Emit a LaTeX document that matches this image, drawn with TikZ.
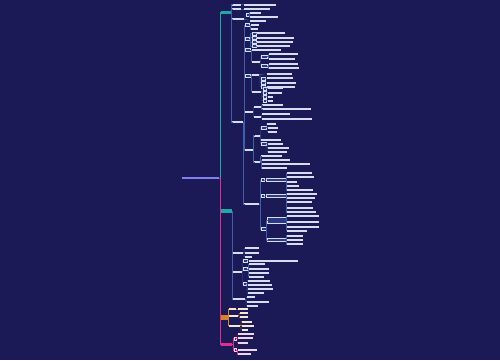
\documentclass[tikz,border=0pt]{standalone}
\usetikzlibrary{calc}
\definecolor{bg}{HTML}{1B1A57}
\definecolor{lnc}{HTML}{3F5FAE}
\definecolor{leaf}{HTML}{D6DDEE}
\definecolor{boxf}{HTML}{2C3A86}
\definecolor{brteal}{HTML}{1FA9A6}
\definecolor{brorange}{HTML}{D9822B}
\definecolor{brmag}{HTML}{DE2E93}
\definecolor{rootc}{HTML}{8080EE}
\definecolor{orleaf}{HTML}{F2E8D6}
\definecolor{mgleaf}{HTML}{F0D4EA}
\tikzset{
  lf/.style={fill=leaf, inner sep=0pt, minimum height=2.2pt},
  bx/.style={draw=leaf, fill=boxf, line width=0.35pt, inner sep=0pt, minimum height=3.2pt},
  olf/.style={lf, fill=orleaf},
  mlf/.style={lf, fill=mgleaf},
  cn/.style={draw=lnc, line width=0.45pt},
  brn/.style={inner sep=0pt, minimum height=3.5pt},
}
\newcommand\Nd[5][lf]{\node[#1, minimum width={(#4-#3)*1pt}] (#2) at ({(#3+#4)/2},#5) {};}
\newcommand\Ed[3][cn]{\draw[#1] (#2.east) -- ($(#2.east)!.5!(#2.east-|#3.west)$) |- (#3.west);}
\begin{document}
\begin{tikzpicture}[x=1pt,y=-1pt]
\fill[bg] (0,0) rectangle (500,360);
\useasboundingbox (0,0) rectangle (500,360);
% root and branches
\node[brn, fill=rootc, minimum width=37pt, minimum height=2.8pt] (R) at (200.5,178) {};
\node[brn, fill=brteal, minimum width=10pt] (B1) at (226,12.5) {};
\node[brn, fill=brteal, minimum width=11pt] (B2) at (226.5,211) {};
\node[brn, fill=brorange, minimum width=6.5pt, minimum height=4.5pt] (B3) at (224.25,317.5) {};
\node[brn, fill=brmag, minimum width=11pt, minimum height=3pt] (B4) at (226.5,344.5) {};
\foreach \b/\c in {B1/brteal,B2/brteal,B3/brorange,B4/brmag}
  {\draw[\c, line width=0.5pt] (R.east) -- ++(1,0) |- (\b.west);}
% leaf-like nodes
\foreach \n/\a/\b/\y in {A1/232/241/4.7, A1l/244/276/4.7, A2/232/241/9, A2l/244/270/9,
  A3/232/244/19.3, a3a/250/261/12.7, a3b/250/278/16.7, a3c/250/266/21,
  A4/232/243/122, c0a/251/259/25, c0b/251/258/29.3,
  d1l/257/285/33.3, d2l/257/294/37.7, d3l/257/293/42, d4l/257/290/46,
  c2l/252/281/50, E0/252/260/61.7, e1a/269/298/54.3, e1b/269/295/58.7,
  e2a/269/298/64, e2b/269/299/68.3,
  F1/252/259/74.7, f0/267/292/74, fl1/267/293/78.3, fl2/267/296/82.7, fl3/267/295/86.7,
  F2/252/261/91.7, gl1/268/283/88.3, gl2/268/282/92.7, gl3/268/273/96.7, gl4/268/273/100.7,
  C4/245/253/111.7, H1/254/261/107, h1a/262/283/105, h1b/262/311/109.3,
  H2/254/261/116.7, h2a/262/290/114, h2b/262/312/119,
  C5/245/253/150, K1/254/260/135.7, k1/267/276/124, k2/268/278/127.7, k3/268/277/131.7,
  k4/261/281/139.7, k5/268/283/143.7, k6/268/289/147.7, k7/268/287/151.7,
  K3/254/260/162, K2/261/282/156, k8/262/290/160, k9/262/310/164.3, k10/262/287/168.3,
  C6/244/259/204, n1/287/312/173.3, n2/287/314/177, n3/287/297/181.7,
  n4/287/299/185.7, n5/287/313/190,
  n6/287/317/193.7, n7/287/315/197.7, n8/287/312/201.7, n9/287/313/208, n10/287/316/212,
  n15/287/303/235.7, n16/287/303/240, n17/287/303/244,
  n11/287/319/216, n12/287/319/221.7, n13/287/319/226.7, n14/287/307/230.7,
  P1/232/243/252.7, p1/245/259/248.3, p2/245/259/252.7, p3/245/252/256.7,
  P2/232/242/271.7, q1/249/298/260.7, q2/249/265/264.3,
  q3/249/269/269, q4/249/269/273, q5/249/264/276.7,
  q6/248/270/280.7, q7/248/272/285, q8/248/273/289.3, q9/248/264/293.3,
  P3/232/245/299.3, r1/247/255/297.3, r2/247/269/301.7, r3/247/258/305.7}
  {\Nd{\n}{\a}{\b}{\y}}
% boxed parent nodes
\foreach \n/\a/\b/\y in {a3s/246/249/15, C0/245/249/25, C1/245/249/39,
  d1/252/256/33.3, d2/252/256/37.7, d3/252/256/42, d4/252/256/46,
  C2/245/250/50, E1/261/267/56.5, E2/261/267/66, C3/245/250/76,
  fs1/261/265/78.3, fs2/261/265/82.7, fs3/261/265/86.7,
  gs1/263/266/88.3, gs2/263/266/92.7, gs3/263/266/96.7, gs4/263/266/100.7,
  K1a/261/266/127.7, K1b/261/266/143.7,
  M1/261/264/180, N1/266/286/180, M2/261/264/196, N2/266/286/196,
  M3/261/266/229, N4/267/286/240,
  Q1/243/247/260.7, Q2/243/247/269, Q3/243/246/283.3}
  {\Nd[bx]{\n}{\a}{\b}{\y}}
\node[bx, minimum width=19pt, minimum height=6pt] (N3) at (276.5,220) {};
% branch 3 and 4 nodes
\foreach \n/\a/\b/\y in {O0/228.5/236/309.3, o0/238/248/309.3, O1/229/238/315.7, o1a/240/248/313.3, o1b/240/248/317.3,
  O3/228.5/240/325.7, o3a/242/252/321.7, o3b/242/254/325.7, o3c/242/248/330}
  {\Nd[olf]{\n}{\a}{\b}{\y}}
\foreach \n/\a/\b/\y in {t1/238/254/334, t2/238/253/338.3, t3/238/248/342.7,
  t4/238/257/350, t5/238/251/354.3}
  {\Nd[mlf]{\n}{\a}{\b}{\y}}
\foreach \n/\a/\b/\y in {T2/234/236/338.3, T3/234/236/350}
  {\Nd[bx, draw=mgleaf, fill=brmag!40!bg]{\n}{\a}{\b}{\y}}
% connectors
\foreach \p/\c in {B1/A1, A1/A1l, B1/A2, A2/A2l, B1/A3, A3/a3s, a3s/a3a, a3s/a3b, A3/a3c, B1/A4,
  A4/C0, C0/c0a, C0/c0b, A4/C1, C1/d1, C1/d2, C1/d3, C1/d4, d1/d1l, d2/d2l, d3/d3l, d4/d4l,
  A4/C2, C2/c2l, C2/E0, E0/E1, E0/E2, E1/e1a, E1/e1b, E2/e2a, E2/e2b,
  A4/C3, C3/F1, F1/f0, F1/fs1, F1/fs2, F1/fs3, fs1/fl1, fs2/fl2, fs3/fl3,
  C3/F2, F2/gs1, F2/gs2, F2/gs3, F2/gs4, gs1/gl1, gs2/gl2, gs3/gl3, gs4/gl4,
  A4/C4, C4/H1, C4/H2, H1/h1a, H1/h1b, H2/h2a, H2/h2b,
  A4/C5, C5/K1, K1/K1a, K1/k4, K1/K1b, K1a/k1, K1a/k2, K1a/k3, K1b/k5, K1b/k6, K1b/k7,
  C5/K3, K3/K2, K3/k8, K3/k9, K3/k10,
  A4/C6, C6/M1, C6/M2, C6/M3, M1/N1, M2/N2, M3/N3, M3/N4,
  N1/n1, N1/n2, N1/n3, N1/n4, N1/n5, N2/n6, N2/n7, N2/n8, N2/n9, N2/n10,
  N3/n11, N3/n12, N3/n13, N3/n14, N4/n15, N4/n16, N4/n17,
  B2/P1, P1/p1, P1/p2, P1/p3, B2/P2, P2/Q1, P2/Q2, P2/Q3, Q1/q1, Q2/q2, Q2/q3, Q2/q4, Q2/q5,
  Q3/q6, Q3/q7, Q3/q8, Q3/q9, B2/P3, P3/r1, P3/r2, P3/r3}
  {\Ed{\p}{\c}}
\foreach \p/\c in {B3/O0, O0/o0, B3/O1, O1/o1a, O1/o1b, B3/O3, O3/o3a, O3/o3b, O3/o3c}
  {\Ed[draw=brorange, line width=0.45pt]{\p}{\c}}
\foreach \p/\c in {B4/T2, T2/t1, T2/t2, T2/t3, B4/T3, T3/t4, T3/t5}
  {\Ed[draw=brmag, line width=0.45pt]{\p}{\c}}
\end{tikzpicture}
\end{document}
